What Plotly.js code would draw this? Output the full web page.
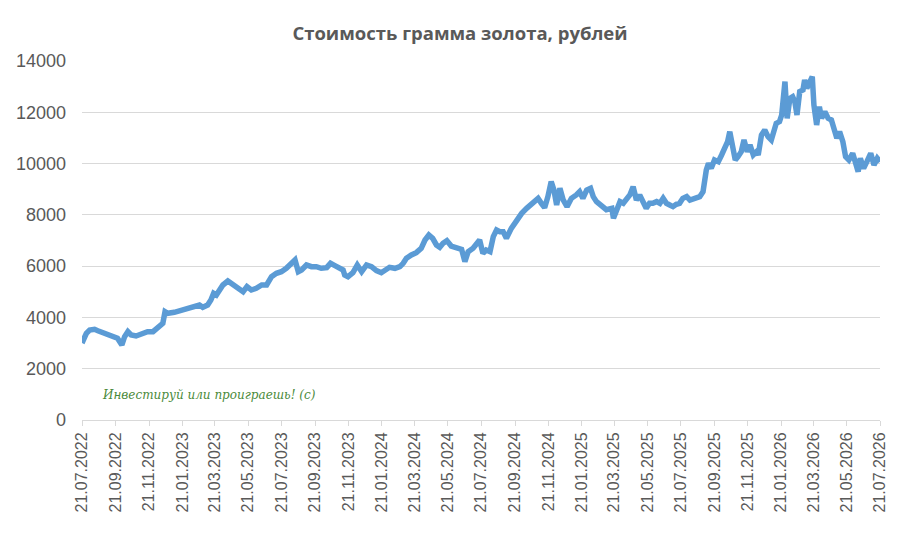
<!DOCTYPE html>
<html>
<head>
<meta charset="utf-8">
<script src="https://cdn.plot.ly/plotly-3.0.1.min.js"></script>
<style>html,body{margin:0;padding:0;background:#fff}#chart{width:920px;height:551px}</style>
</head>
<body>
<div id="chart"></div>
<script>
const dates = [
"2022-07-21","2022-07-29","2022-08-04","2022-08-13","2022-08-19","2022-08-28","2022-09-06","2022-09-15","2022-09-24","2022-10-02",
"2022-10-07","2022-10-13","2022-10-19","2022-10-28","2022-11-09","2022-11-18","2022-11-28","2022-12-07","2022-12-16","2022-12-20",
"2022-12-25","2023-01-06","2023-01-18","2023-01-31","2023-02-12","2023-02-21","2023-02-27","2023-03-08","2023-03-14","2023-03-19",
"2023-03-24","2023-04-05","2023-04-14","2023-04-24","2023-05-03","2023-05-12","2023-05-19","2023-05-27","2023-06-05","2023-06-15",
"2023-06-24","2023-07-03","2023-07-12","2023-07-21","2023-07-30","2023-08-08","2023-08-15","2023-08-21","2023-08-27","2023-09-05",
"2023-09-14","2023-09-23","2023-10-02","2023-10-12","2023-10-19","2023-10-27","2023-11-05","2023-11-11","2023-11-14","2023-11-20",
"2023-11-29","2023-12-07","2023-12-15","2023-12-24","2024-01-02","2024-01-11","2024-01-20","2024-01-29","2024-02-04","2024-02-14",
"2024-02-23","2024-02-29","2024-03-06","2024-03-15","2024-03-24","2024-04-02","2024-04-09","2024-04-16","2024-04-23","2024-04-30",
"2024-05-06","2024-05-12","2024-05-19","2024-05-27","2024-06-06","2024-06-15","2024-06-21","2024-06-27","2024-07-06","2024-07-12",
"2024-07-18","2024-07-24","2024-07-30","2024-08-06","2024-08-12","2024-08-18","2024-08-24","2024-08-30","2024-09-05","2024-09-14",
"2024-09-23","2024-10-03","2024-10-12","2024-10-21","2024-10-27","2024-11-02","2024-11-08","2024-11-14","2024-11-20","2024-11-26",
"2024-12-01","2024-12-06","2024-12-12","2024-12-18","2024-12-25","2025-01-02","2025-01-11","2025-01-17","2025-01-23","2025-01-30",
"2025-02-06","2025-02-11","2025-02-17","2025-02-23","2025-03-01","2025-03-07","2025-03-17","2025-03-20","2025-03-26","2025-04-01",
"2025-04-07","2025-04-13","2025-04-19","2025-04-25","2025-05-01","2025-05-07","2025-05-13","2025-05-19","2025-05-25","2025-05-31",
"2025-06-07","2025-06-13","2025-06-19","2025-06-25","2025-07-01","2025-07-07","2025-07-13","2025-07-19","2025-07-25","2025-08-01",
"2025-08-07","2025-08-16","2025-08-25","2025-08-31","2025-09-03","2025-09-06","2025-09-10","2025-09-15","2025-09-21","2025-09-28",
"2025-10-04","2025-10-10","2025-10-15","2025-10-19","2025-10-23","2025-10-29","2025-11-03","2025-11-09","2025-11-14","2025-11-20",
"2025-11-25","2025-12-01","2025-12-07","2025-12-10","2025-12-16","2025-12-22","2025-12-28","2026-01-03","2026-01-12","2026-01-18",
"2026-01-22","2026-01-28","2026-02-01","2026-02-06","2026-02-11","2026-02-15","2026-02-19","2026-02-24","2026-03-02","2026-03-05",
"2026-03-09","2026-03-14","2026-03-19","2026-03-22","2026-03-27","2026-04-01","2026-04-05","2026-04-11","2026-04-17","2026-04-23",
"2026-04-29","2026-05-03","2026-05-08","2026-05-14","2026-05-19","2026-05-25","2026-06-01","2026-06-05","2026-06-11","2026-06-15",
"2026-06-21","2026-06-27","2026-07-04","2026-07-10","2026-07-16","2026-07-21"
];
const prices = [
3000,3380,3510,3537,3483,3405,3380,3276,3186,2925,
3250,3444,3315,3276,3354,3444,3444,3576,3771,4224,
4160,4200,4263,4356,4446,4485,4395,4485,4680,4941,
4875,5265,5420,5265,5160,5005,5200,5070,5135,5265,
5265,5590,5720,5785,5915,6110,6240,5785,5850,6045,
5980,5980,5915,5940,6110,6020,5950,5850,5655,5590,
5745,6045,5785,6045,5980,5825,5745,5850,5955,5915,
5980,6110,6305,6435,6525,6695,7020,7215,7085,6825,
6735,6890,6995,6785,6695,6655,6175,6565,6700,6825,
7020,6500,6630,6565,7150,7410,7345,7345,7085,7475,
7800,8060,8255,8450,8580,8645,8450,8280,8710,9295,
8970,8385,9035,8580,8320,8645,8775,8905,8645,8970,
9035,8710,8515,8385,8320,8200,8255,7865,8190,8515,
8450,8645,8775,9100,8580,8775,8515,8255,8450,8450,
8515,8450,8645,8450,8385,8320,8410,8450,8645,8710,
8580,8645,8710,8905,9360,9750,10010,9815,10140,10075,
10335,10595,10855,11245,10790,10140,10270,10465,10920,10465,
10725,10335,10465,10335,11115,11310,11050,10920,11570,11635,
11895,13195,11765,12545,12610,12415,11895,12805,12870,13260,
12935,13195,13390,12285,11505,12220,11765,12025,11765,11700,
11245,10985,11245,10855,10270,10140,10400,10140,9685,10205,
9815,10075,10400,9945,10205,10075
];
const tickDates = ["2022-07-21","2022-09-21","2022-11-21","2023-01-21","2023-03-21","2023-05-21","2023-07-21","2023-09-21","2023-11-21","2024-01-21","2024-03-21","2024-05-21","2024-07-21","2024-09-21","2024-11-21","2025-01-21","2025-03-21","2025-05-21","2025-07-21","2025-09-21","2025-11-21","2026-01-21","2026-03-21","2026-05-21","2026-07-21"];
const tickLabels = tickDates.map(d => d.slice(8,10) + "." + d.slice(5,7) + "." + d.slice(0,4));
const yTicks = [0,2000,4000,6000,8000,10000,12000,14000];
const yLabels = ["0","2000","4000","6000","8000","10000","12000","14000"];
const titleText = "Стоимость грамма золота, рублей";
const noteText = "Инвестируй или проиграешь! (с)";

const trace = {
  x: dates, y: prices, type: "scatter", mode: "lines",
  line: {color: "#5b9bd5", width: 5.5, shape: "linear"},
  hoverinfo: "skip"
};
const layout = {
  width: 920, height: 551,
  margin: {l: 82, r: 40, t: 61, b: 131},
  paper_bgcolor: "#ffffff", plot_bgcolor: "#ffffff",
  showlegend: false,
  title: {text: "<b>" + titleText + "</b>", x: 0.5, xanchor: "center", y: 0.94, yanchor: "middle",
          font: {family: "Open Sans, sans-serif", size: 18.5, color: "#595959"}},
  xaxis: {
    type: "date", range: ["2022-07-21", "2026-07-21"],
    tickvals: tickDates, ticktext: tickLabels, tickangle: -90,
    ticks: "outside", ticklen: 5, tickcolor: "#d9d9d9", tickwidth: 1,
    showline: true, linecolor: "#d9d9d9", linewidth: 1,
    showgrid: false, zeroline: false,
    tickfont: {family: "Liberation Sans, Arial, sans-serif", size: 16, color: "#595959"}
  },
  yaxis: {
    range: [0, 14000], tickvals: yTicks, ticktext: yLabels,
    showgrid: true, gridcolor: "#d9d9d9", gridwidth: 1,
    zeroline: false, showline: false, ticks: "", ticklabelstandoff: 15,
    tickfont: {family: "Liberation Sans, Arial, sans-serif", size: 18, color: "#595959"}
  },
  annotations: [{
    text: noteText, xref: "paper", yref: "paper", x: 0.022, y: 0.07, xanchor: "left", yanchor: "middle",
    showarrow: false, font: {family: "DejaVu Serif, serif", size: 12, color: "#4a8a3a", style: "italic"}
  }]
};
Plotly.newPlot("chart", [trace], layout, {displayModeBar: false, staticPlot: true});
</script>
</body>
</html>
